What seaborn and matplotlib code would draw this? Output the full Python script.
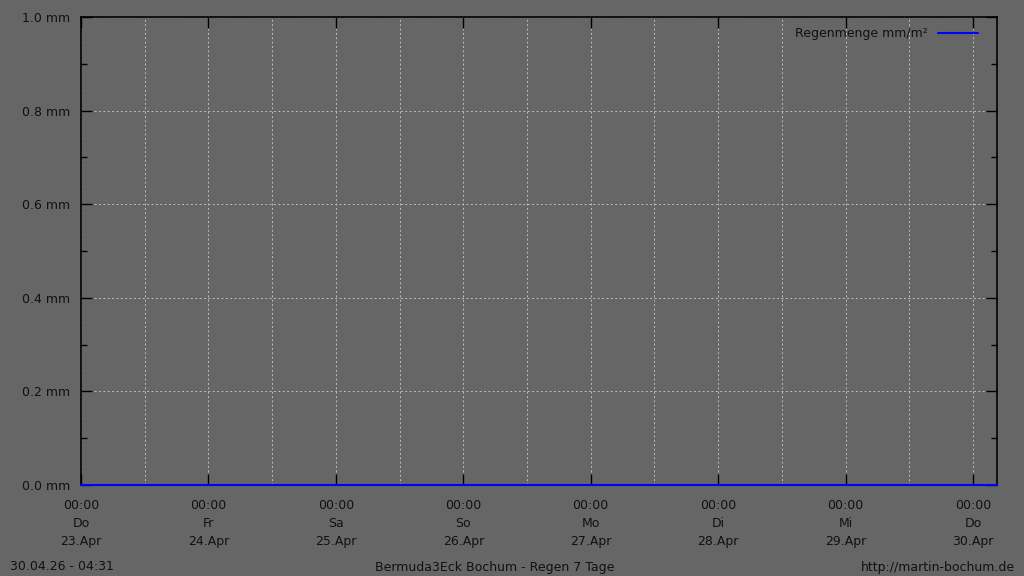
import pandas as pd
import numpy as np
import matplotlib
matplotlib.use("Agg")
import matplotlib.pyplot as plt
import matplotlib.dates as mdates
from matplotlib.ticker import MultipleLocator
import seaborn as sns

# Daten (Regen der letzten 7 Tage - alles 0)
zeiten = ["2026-04-23 00:00", "2026-04-24 00:00", "2026-04-25 00:00", "2026-04-26 00:00",
          "2026-04-27 00:00", "2026-04-28 00:00", "2026-04-29 00:00", "2026-04-30 00:00",
          "2026-04-30 04:31"]
regen = [0.0, 0.0, 0.0, 0.0, 0.0, 0.0, 0.0, 0.0, 0.0]
tage = ["Do", "Fr", "Sa", "So", "Mo", "Di", "Mi", "Do"]
daten = ["23.Apr", "24.Apr", "25.Apr", "26.Apr", "27.Apr", "28.Apr", "29.Apr", "30.Apr"]
y_ticks = [0.0, 0.2, 0.4, 0.6, 0.8, 1.0]

df = pd.DataFrame({"zeit": pd.to_datetime(zeiten), "regen": regen})

bg = "#666666"
sns.set_style("ticks")
plt.rcParams["font.family"] = ["DejaVu Sans"]
plt.rcParams["font.size"] = 9

fig = plt.figure(figsize=(10.24, 5.76), dpi=100, facecolor=bg)
ax = fig.add_axes([81 / 1024, 91 / 576, 916 / 1024, 468 / 576])
ax.set_facecolor(bg)

sns.lineplot(data=df, x="zeit", y="regen", ax=ax, color="#0000ff", linewidth=1.5,
             label="Regenmenge mm/m²", zorder=5)
for ln in ax.get_lines():
    ln.set_clip_on(False)

ax.set_xlim(pd.Timestamp("2026-04-23 00:00"), pd.Timestamp("2026-04-30 04:31"))
ax.set_ylim(0, 1.0)

# x-Achse: Mitternacht als Hauptticks, 12 Uhr als Gitter
tick_pos = pd.to_datetime(zeiten[:8])
ax.set_xticks(tick_pos)
ax.set_xticklabels([f"00:00\n{t}\n{d}" for t, d in zip(tage, daten)], linespacing=1.5)
ax.xaxis.set_minor_locator(mdates.HourLocator(byhour=[12]))

ax.set_yticks(y_ticks)
ax.set_yticklabels([f"{v:.1f} mm" for v in y_ticks])
ax.yaxis.set_minor_locator(MultipleLocator(0.1))

ax.tick_params(which="both", direction="in", top=True, right=True, colors="black",
               labelcolor="#111111", labelsize=9)
ax.tick_params(which="major", length=8, width=1)
ax.tick_params(which="minor", length=4, width=1)
ax.tick_params(axis="x", which="minor", length=0)
ax.tick_params(axis="x", pad=10)
ax.tick_params(axis="y", pad=8)

gridstyle = dict(color="#bdbdbd", linestyle=(0, (2, 2.5)), linewidth=0.7)
ax.grid(True, which="major", **gridstyle)
ax.grid(True, which="minor", axis="x", **gridstyle)
ax.set_axisbelow(True)

for s in ax.spines.values():
    s.set_visible(True)
    s.set_color("black")
    s.set_linewidth(1.2)
    s.set_zorder(3)

ax.set_xlabel("")
ax.set_ylabel("")

leg = ax.legend(loc="upper right", frameon=False, markerfirst=False, fontsize=9,
                handlelength=3.2, borderaxespad=0.4, bbox_to_anchor=(0.99, 1.0))
for t in leg.get_texts():
    t.set_color("#111111")

fig.text(10 / 1024, 1 - 567 / 576, "30.04.26 - 04:31", ha="left", va="center",
         fontsize=9, color="#111111")
fig.text(495 / 1024, 1 - 567 / 576, "Bermuda3Eck Bochum - Regen 7 Tage", ha="center",
         va="center", fontsize=9, color="#111111")
fig.text(1015 / 1024, 1 - 567 / 576, "http://martin-bochum.de", ha="right", va="center",
         fontsize=9, color="#111111")

fig.savefig("out.png", dpi=100, facecolor=bg)
